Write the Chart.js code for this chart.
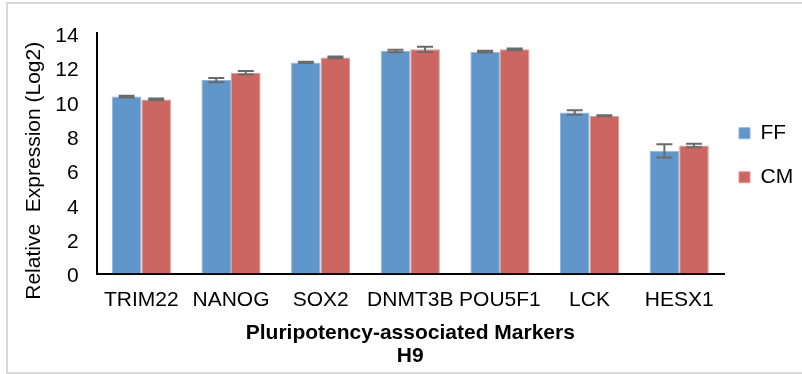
<!DOCTYPE html>
<html>
<head>
<meta charset="utf-8">
<script src="https://cdn.jsdelivr.net/npm/chart.js@4"></script>
<style>
  body { margin: 0; background: #fff; }
  #wrap { position: relative; width: 802px; height: 374px; }
  #frame {
    position: absolute; left: 6px; top: 2px; width: 800px; height: 368px;
    border: 2px solid #d9d9d9; pointer-events: none;
  }
</style>
</head>
<body>
<div id="wrap">
  <canvas id="chart" width="802" height="374"></canvas>
  <div id="frame"></div>
</div>
<script>
// chart data
const markers = ['TRIM22', 'NANOG', 'SOX2', 'DNMT3B', 'POU5F1', 'LCK', 'HESX1'];
const ffValues = [10.3, 11.26, 12.29, 12.95, 12.91, 9.37, 7.14];
const cmValues = [10.13, 11.69, 12.58, 13.05, 13.05, 9.18, 7.45];
const ffErrors = [0.05, 0.12, 0.03, 0.07, 0.05, 0.13, 0.39];
const cmErrors = [0.05, 0.1, 0.05, 0.15, 0.05, 0.03, 0.1];
const yTicks = [0, 2, 4, 6, 8, 10, 12, 14];

const FONT = 'Liberation Sans, Arial, sans-serif';

// draws the +/- error bars on top of each bar, using the chart's own scales
const errorBars = {
  id: 'errorBars',
  afterDatasetsDraw(chart) {
    const ctx = chart.ctx;
    const y = chart.scales.y;
    ctx.save();
    ctx.strokeStyle = '#6b6b6b';
    ctx.lineWidth = 2;
    chart.data.datasets.forEach((ds, i) => {
      const meta = chart.getDatasetMeta(i);
      meta.data.forEach((bar, j) => {
        const v = ds.data[j];
        const e = ds.errors[j];
        const top = y.getPixelForValue(v + e);
        const bot = y.getPixelForValue(v - e);
        const half = 8;
        ctx.beginPath();
        ctx.moveTo(bar.x, top);
        ctx.lineTo(bar.x, bot);
        ctx.moveTo(bar.x - half, top);
        ctx.lineTo(bar.x + half, top);
        ctx.moveTo(bar.x - half, bot);
        ctx.lineTo(bar.x + half, bot);
        ctx.stroke();
      });
    });
    ctx.restore();
  }
};

// pull the legend closer to the plot and up to the middle of the plot area
const legendNudge = {
  id: 'legendNudge',
  afterLayout(chart) {
    chart.legend.left -= 8;
    chart.legend.right -= 8;
    chart.legend.top -= 45;
    chart.legend.bottom -= 45;
  }
};

new Chart(document.getElementById('chart'), {
  type: 'bar',
  data: {
    labels: markers,
    datasets: [
      {
        label: 'FF',
        data: ffValues,
        errors: ffErrors,
        backgroundColor: '#6096c9',
        borderColor: '#8fb4da',
        borderWidth: 1
      },
      {
        label: 'CM',
        data: cmValues,
        errors: cmErrors,
        backgroundColor: '#cc6660',
        borderColor: '#e09893',
        borderWidth: 1
      }
    ]
  },
  options: {
    responsive: false,
    animation: false,
    layout: { padding: { left: 22, right: 0, top: 33, bottom: 6.5 } },
    plugins: {
      tooltip: { enabled: false },
      legend: {
        position: 'right',
        maxWidth: 78,
        labels: {
          color: '#000',
          font: { family: FONT, size: 21 },
          boxWidth: 11,
          boxHeight: 11,
          padding: 23
        }
      }
    },
    datasets: {
      bar: { barPercentage: 1, categoryPercentage: 0.66 }
    },
    scales: {
      x: {
        grid: { display: false, drawTicks: false },
        border: { color: '#000', width: 2 },
        ticks: { color: '#000', font: { family: FONT, size: 21 }, padding: 14, maxRotation: 0, autoSkip: false },
        title: {
          display: true,
          text: ['Pluripotency-associated Markers', 'H9'],
          color: '#000',
          font: { family: FONT, size: 21, weight: 'bold', lineHeight: 1.1 },
          padding: { top: -5.4, bottom: 0 }
        }
      },
      y: {
        min: 0,
        max: 14,
        afterBuildTicks(axis) {
          axis.ticks = yTicks.map(v => ({ value: v }));
        },
        grid: { display: false, drawTicks: false },
        border: { color: '#000', width: 2 },
        ticks: { color: '#000', font: { family: FONT, size: 21 }, padding: 18, labelOffset: 3 },
        title: {
          display: true,
          text: 'Relative  Expression (Log2)      ',
          color: '#000',
          font: { family: FONT, size: 21 },
          padding: { top: 0, bottom: -10 }
        }
      }
    }
  },
  plugins: [errorBars, legendNudge]
});
</script>
</body>
</html>
